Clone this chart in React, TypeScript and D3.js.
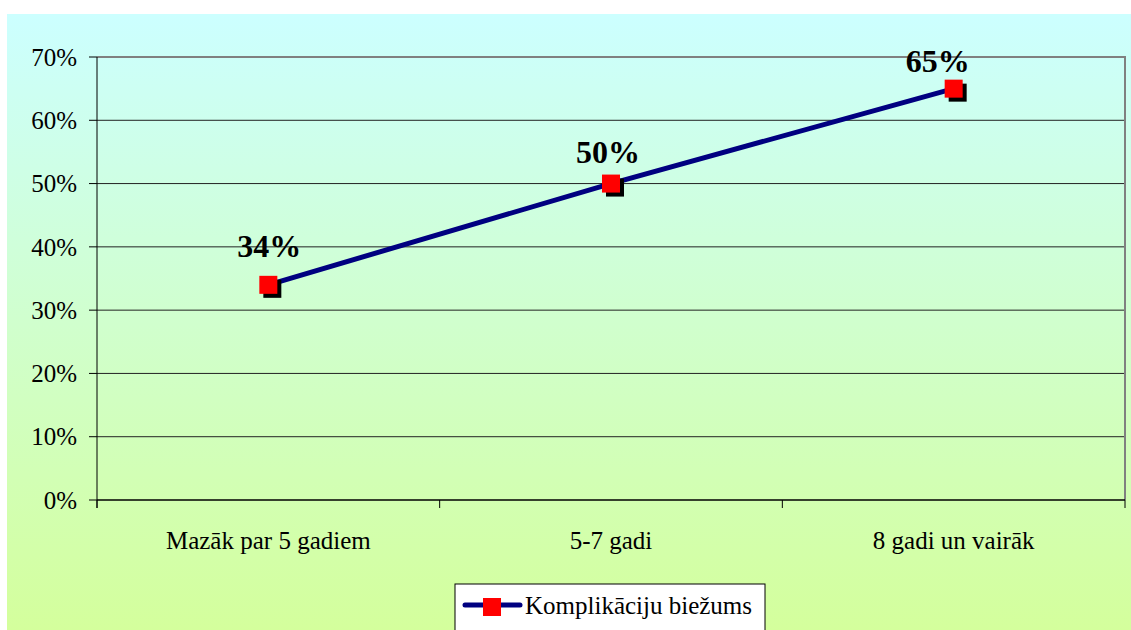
import React, { useEffect, useRef } from "react";
import * as d3 from "d3";

const categories = ["Mazāk par 5 gadiem", "5-7 gadi", "8 gadi un vairāk"];
const values = [0.34, 0.5, 0.65];
const yTicks = [0, 0.1, 0.2, 0.3, 0.4, 0.5, 0.6, 0.7];
const seriesName = "Komplikāciju biežums";

// label nudges (px) relative to each point, as placed in the original
const labelNudge = [
  [1, -28],
  [-3, -21],
  [-16, -17],
];

const W = 1131;
const H = 630;
const FONT = '"Liberation Serif", "Times New Roman", Times, "DejaVu Serif", serif';

export default function App() {
  const ref = useRef<SVGSVGElement>(null);

  useEffect(() => {
    const svg = d3.select(ref.current);
    svg.selectAll("*").remove();
    svg.attr("width", W).attr("height", H).attr("font-family", FONT);

    const defs = svg.append("defs");
    const grad = defs
      .append("linearGradient")
      .attr("id", "bg")
      .attr("x1", 0)
      .attr("y1", 0)
      .attr("x2", 0)
      .attr("y2", 1);
    grad.append("stop").attr("offset", "0%").attr("stop-color", "#ccffff");
    grad.append("stop").attr("offset", "100%").attr("stop-color", "#d4ff9c");

    svg
      .append("rect")
      .attr("x", 7)
      .attr("y", 14)
      .attr("width", W - 7)
      .attr("height", H - 14)
      .attr("fill", "url(#bg)");

    const left = 97;
    const right = 1125;
    const top = 57;
    const bottom = 500;

    const x = d3.scaleBand().domain(categories).range([left, right]);
    const y = d3.scaleLinear().domain([0, 0.7]).range([bottom, top]);

    // grid lines
    svg
      .append("g")
      .selectAll("line")
      .data(yTicks.slice(1, -1))
      .enter()
      .append("line")
      .attr("x1", left)
      .attr("x2", right)
      .attr("y1", (d) => y(d))
      .attr("y2", (d) => y(d))
      .attr("stroke", "#222")
      .attr("stroke-width", 1);

    // plot border top / right
    svg
      .append("path")
      .attr("d", `M${left},${top}H${right}V${bottom}`)
      .attr("fill", "none")
      .attr("stroke", "#808080")
      .attr("stroke-width", 2);

    // y axis
    const yAxis = svg.append("g");
    yAxis
      .append("line")
      .attr("x1", left)
      .attr("x2", left)
      .attr("y1", top)
      .attr("y2", bottom + 8)
      .attr("stroke", "#000");
    yAxis
      .selectAll("line.tick")
      .data(yTicks)
      .enter()
      .append("line")
      .attr("class", "tick")
      .attr("x1", left - 8)
      .attr("x2", left)
      .attr("y1", (d) => y(d))
      .attr("y2", (d) => y(d))
      .attr("stroke", "#000");
    yAxis
      .selectAll("text")
      .data(yTicks)
      .enter()
      .append("text")
      .attr("x", left - 20)
      .attr("y", (d) => y(d))
      .attr("dy", "0.35em")
      .attr("text-anchor", "end")
      .attr("font-size", 25)
      .attr("fill", "#000")
      .text((d) => d3.format(".0%")(d));

    // x axis
    const xAxis = svg.append("g");
    xAxis
      .append("line")
      .attr("x1", left)
      .attr("x2", right)
      .attr("y1", bottom)
      .attr("y2", bottom)
      .attr("stroke", "#000")
      .attr("stroke-width", 1.5);
    const bounds = categories.map((c) => x(c) as number).concat([right]);
    xAxis
      .selectAll("line.tick")
      .data(bounds)
      .enter()
      .append("line")
      .attr("class", "tick")
      .attr("x1", (d) => d)
      .attr("x2", (d) => d)
      .attr("y1", bottom)
      .attr("y2", bottom + 8)
      .attr("stroke", "#000");
    xAxis
      .selectAll("text")
      .data(categories)
      .enter()
      .append("text")
      .attr("x", (d) => (x(d) as number) + x.bandwidth() / 2)
      .attr("y", 549)
      .attr("text-anchor", "middle")
      .attr("font-size", 25)
      .attr("fill", "#000")
      .text((d) => d);

    const pts = categories.map((c, i) => ({
      cx: (x(c) as number) + x.bandwidth() / 2,
      cy: y(values[i]),
      v: values[i],
      i,
    }));

    const line = d3
      .line<{ cx: number; cy: number }>()
      .x((d) => d.cx)
      .y((d) => d.cy);
    svg
      .append("path")
      .attr("d", line(pts))
      .attr("fill", "none")
      .attr("stroke", "#000080")
      .attr("stroke-width", 5);

    const m = 18;
    svg
      .append("g")
      .selectAll("rect")
      .data(pts)
      .enter()
      .append("rect")
      .attr("x", (d) => d.cx - m / 2 + 4)
      .attr("y", (d) => d.cy - m / 2 + 4)
      .attr("width", m)
      .attr("height", m)
      .attr("fill", "#000");
    svg
      .append("g")
      .selectAll("rect")
      .data(pts)
      .enter()
      .append("rect")
      .attr("x", (d) => d.cx - m / 2)
      .attr("y", (d) => d.cy - m / 2)
      .attr("width", m)
      .attr("height", m)
      .attr("fill", "#ff0000");

    svg
      .append("g")
      .selectAll("text")
      .data(pts)
      .enter()
      .append("text")
      .attr("x", (d) => d.cx + labelNudge[d.i][0])
      .attr("y", (d) => d.cy + labelNudge[d.i][1])
      .attr("text-anchor", "middle")
      .attr("font-size", 32)
      .attr("font-weight", "bold")
      .attr("fill", "#000")
      .text((d) => d3.format(".0%")(d.v));

    // legend
    const lg = svg.append("g");
    lg.append("rect")
      .attr("x", 455)
      .attr("y", 584)
      .attr("width", 310)
      .attr("height", 52)
      .attr("fill", "#fff")
      .attr("stroke", "#000")
      .attr("stroke-width", 1);
    lg.append("line")
      .attr("x1", 465)
      .attr("x2", 520)
      .attr("y1", 605)
      .attr("y2", 605)
      .attr("stroke", "#000080")
      .attr("stroke-width", 5)
      .attr("stroke-linecap", "round");
    lg.append("rect")
      .attr("x", 483)
      .attr("y", 598)
      .attr("width", 18)
      .attr("height", 18)
      .attr("fill", "#ff0000");
    lg.append("text")
      .attr("x", 525)
      .attr("y", 614)
      .attr("font-size", 25)
      .attr("fill", "#000")
      .text(seriesName);
  }, []);

  return (
    <div style={{ position: "absolute", left: 0, top: 0 }}>
      <svg ref={ref} style={{ display: "block" }} />
    </div>
  );
}
